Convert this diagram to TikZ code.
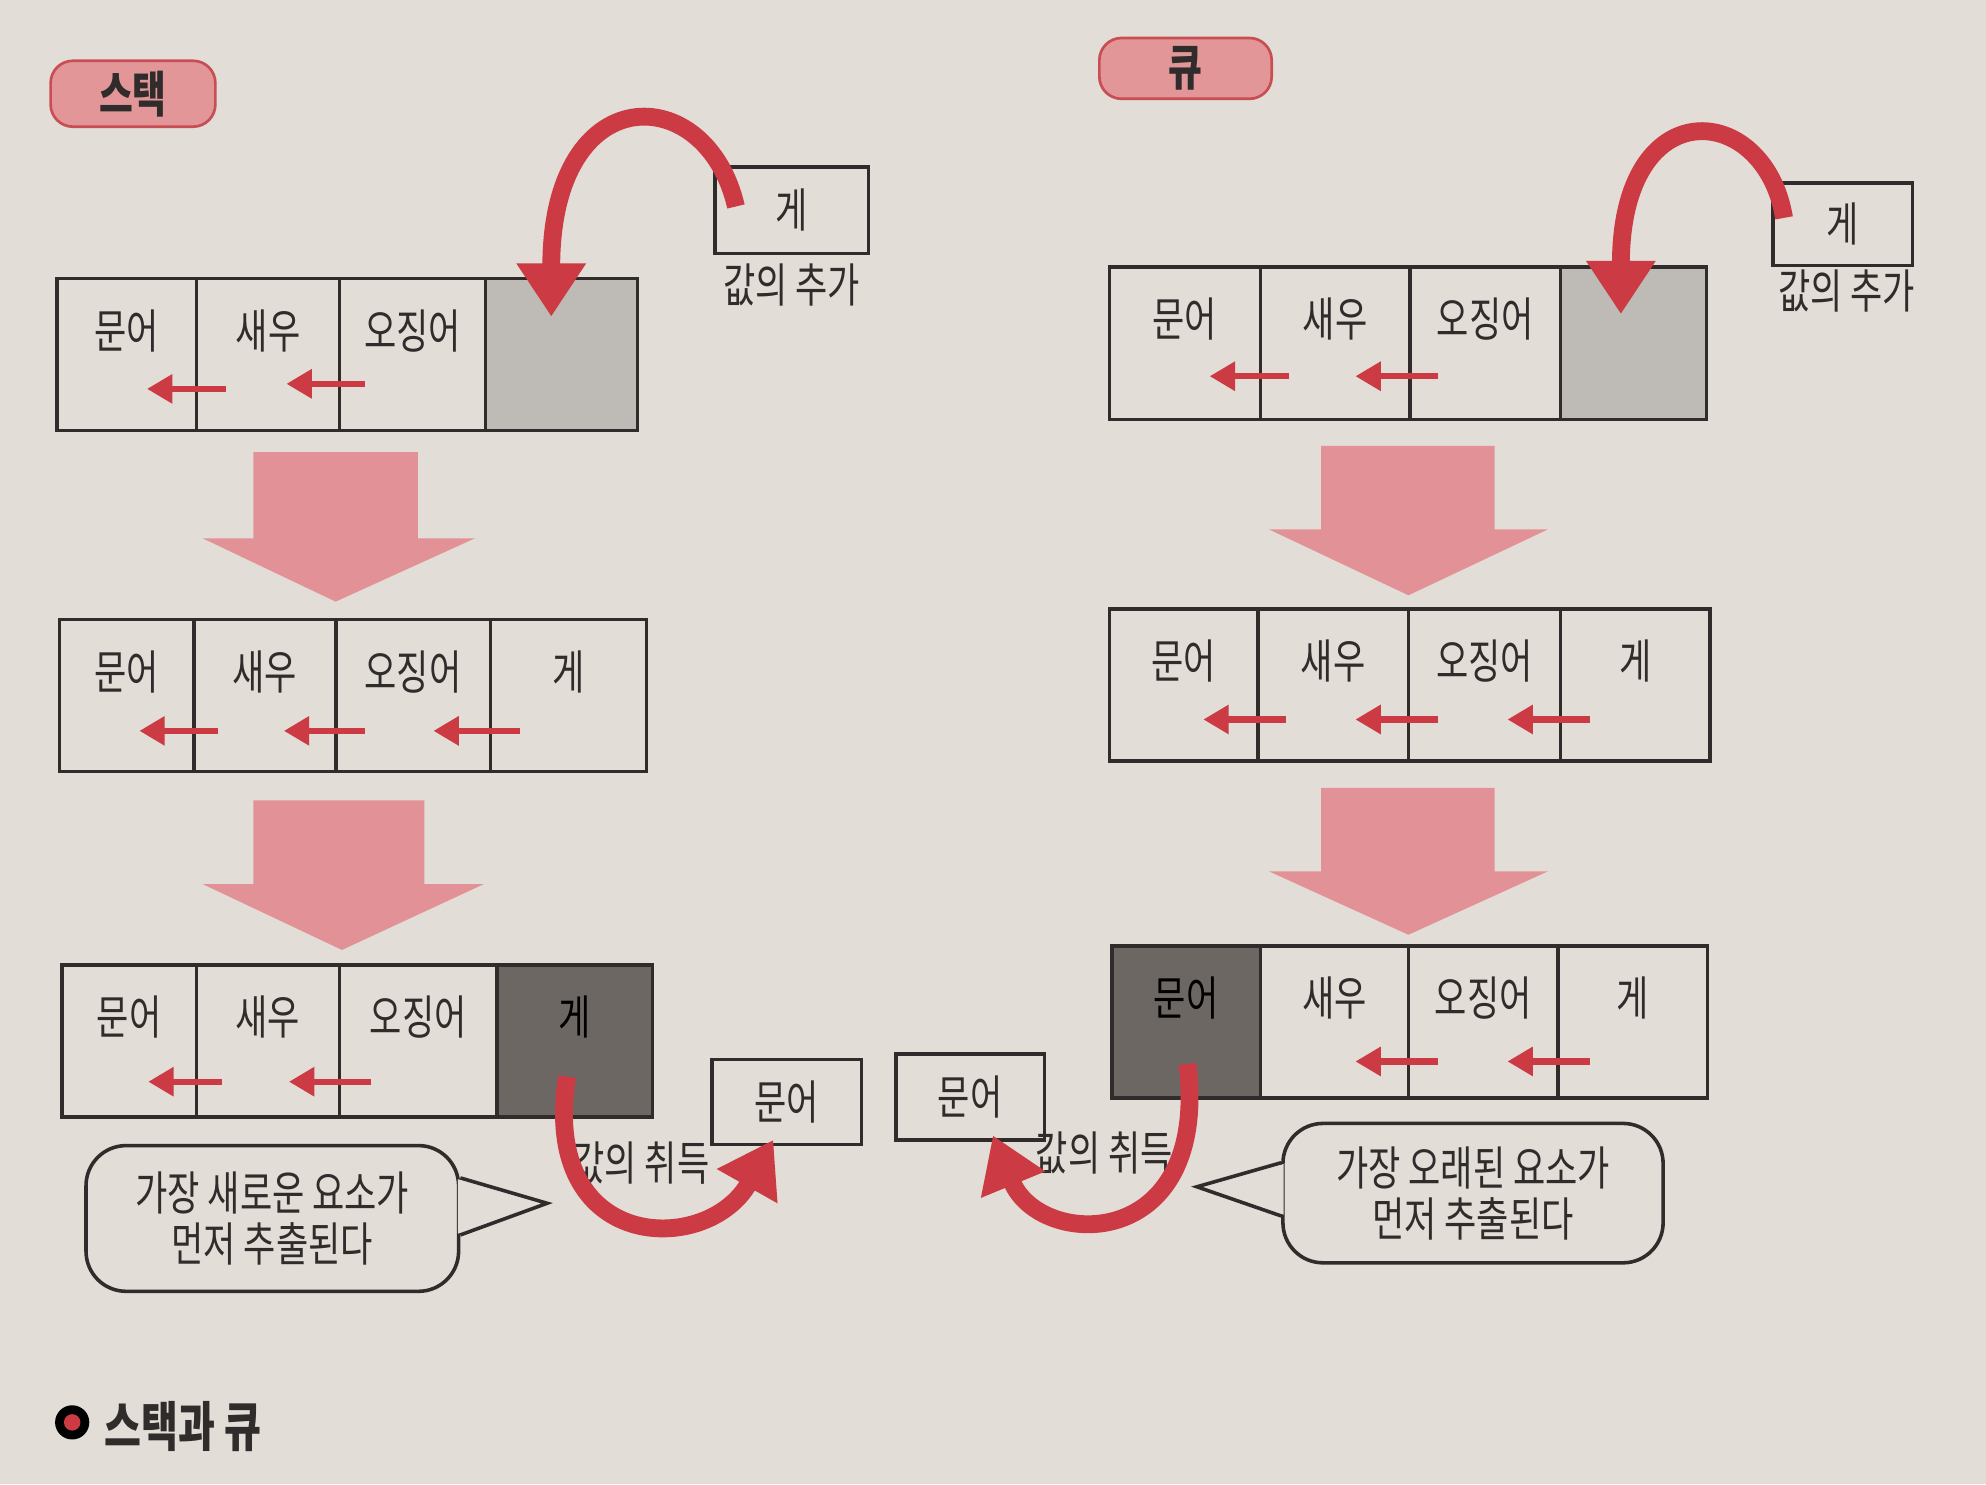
\documentclass[tikz,border=0pt]{standalone}
\usepackage{fontspec}
\setmainfont{Noto Sans CJK KR}[FakeStretch=0.75]
\usetikzlibrary{positioning,calc,arrows.meta}
\definecolor{paper}{RGB}{226,221,214}
\definecolor{ink}{RGB}{48,44,44}
\definecolor{arrowred}{RGB}{204,58,68}
\definecolor{blockpink}{RGB}{226,146,150}
\definecolor{tagpink}{RGB}{226,150,152}
\definecolor{tagline}{RGB}{200,78,84}
\definecolor{slotgray}{RGB}{190,186,182}
\definecolor{outgray}{RGB}{108,103,99}

\tikzset{
  cell/.style={draw=ink, line width=0.8pt, outer sep=0pt, inner sep=0pt,
    text height=0.55cm, text depth=0.65cm},
  itembox/.style={draw=ink, line width=0.8pt, inner sep=0pt},
  word/.style={inner sep=0pt},
  tag/.style={draw=tagline, line width=0.6pt, fill=tagpink, rounded corners=5pt,
    inner sep=0pt, font=\bfseries\fontsize{11}{13}\selectfont},
  bubble/.style={draw=ink, line width=0.8pt, rounded corners=9pt, fill=paper,
    align=center, inner sep=0pt, font=\fontsize{10.5}{11.5}\selectfont},
  slidearrow/.style={arrowred, line width=1.4pt, -{Triangle[length=0.2cm,width=0.22cm]}},
  movearrow/.style={arrowred, line width=4pt, -{Triangle[length=0.42cm,width=0.52cm]}}
}

\begin{document}
\begin{tikzpicture}[x=0.01cm,y=-0.01cm,font=\fontsize{10.5}{12}\selectfont,text=ink]
\useasboundingbox (0,0) rectangle (1568,1172);
\fill[paper] (0,0) rectangle (1568,1172);

% stack
\node[tag, minimum width=1.30cm, minimum height=0.52cm] (stacktag) at (105,74) {스택};

\node[cell, anchor=west, minimum width=1.10cm] (s1a) at (45,280) {문어};
\node[cell, right=0pt of s1a, minimum width=1.13cm] (s1b) {새우};
\node[cell, right=0pt of s1b, minimum width=1.15cm] (s1c) {오징어};
\node[cell, right=0pt of s1c, minimum width=1.20cm, fill=slotgray] (s1d) {};
\draw[slidearrow] ($(s1b.south west)+(23,-33)$) -- ++(-62,0);
\draw[slidearrow] ($(s1c.south west)+(20,-37)$) -- ++(-62,0);

\node[itembox, minimum width=1.21cm, minimum height=0.68cm] (sin) at (625,166) {게};
\node[word] (sinlabel) at (625,225) {값의 추가};

\fill[blockpink] (200,357) -- (330,357) -- (330,425) -- (375,425) -- (265,475) -- (160,425) -- (200,425) -- cycle;

\node[cell, anchor=west, minimum width=1.06cm] (s2a) at (47,549) {문어};
\node[cell, right=0pt of s2a, minimum width=1.12cm] (s2b) {새우};
\node[cell, right=0pt of s2b, minimum width=1.22cm] (s2c) {오징어};
\node[cell, right=0pt of s2c, minimum width=1.23cm] (s2d) {게};
\draw[slidearrow] ($(s2b.south west)+(19,-32)$) -- ++(-62,0);
\draw[slidearrow] ($(s2c.south west)+(23,-32)$) -- ++(-64,0);
\draw[slidearrow] ($(s2d.south west)+(23,-32)$) -- ++(-68,0);

\fill[blockpink] (200,632) -- (335,632) -- (335,698) -- (382,698) -- (270,750) -- (160,698) -- (200,698) -- cycle;

\node[cell, anchor=west, minimum width=1.06cm] (s3a) at (49,822) {문어};
\node[cell, right=0pt of s3a, minimum width=1.13cm] (s3b) {새우};
\node[cell, right=0pt of s3b, minimum width=1.24cm] (s3c) {오징어};
\node[cell, right=0pt of s3c, minimum width=1.23cm, fill=outgray, text=black] (s3d) {게};
\draw[slidearrow] ($(s3b.south west)+(20,-28)$) -- ++(-58,0);
\draw[slidearrow] ($(s3c.south west)+(25,-28)$) -- ++(-65,0);

\node[itembox, minimum width=1.18cm, minimum height=0.67cm] (sout) at (621,870) {문어};
\node[word] (soutlabel) at (506,918) {값의 취득};

\node[bubble, minimum width=2.94cm, minimum height=1.15cm] (sbub) at (215,962) {가장 새로운 요소가\\먼저 추출된다};
\coordinate (stip) at (432,950);
\fill[paper] ($(sbub.east)+(-2,-31)$) -- (stip) -- ($(sbub.east)+(-2,12)$) -- cycle;
\draw[ink, line width=0.8pt] ($(sbub.east)+(0,-32)$) -- (stip) -- ($(sbub.east)+(0,13)$);

\draw[movearrow] ($(sin.west)+(18,-3)$) .. controls +(-23,-100) and +(0,-190) .. ($(s1d.center)+(-8,-30)$);
\draw[movearrow] ($(s3d.center)+(-6,28)$) .. controls +(-22,140) and +(-52,92) .. ($(sout.south west)+(50,-5)$);

% queue
\node[tag, minimum width=1.36cm, minimum height=0.48cm] (queuetag) at (936,54) {큐};

\node[cell, anchor=west, minimum width=1.19cm] (q1a) at (876,271) {문어};
\node[cell, right=0pt of q1a, minimum width=1.18cm] (q1b) {새우};
\node[cell, right=0pt of q1b, minimum width=1.19cm] (q1c) {오징어};
\node[cell, right=0pt of q1c, minimum width=1.15cm, fill=slotgray] (q1d) {};
\draw[slidearrow] ($(q1b.south west)+(23,-34)$) -- ++(-63,0);
\draw[slidearrow] ($(q1c.south west)+(22,-34)$) -- ++(-65,0);

\node[itembox, minimum width=1.10cm, minimum height=0.65cm] (qin) at (1455,177) {게};
\node[word] (qinlabel) at (1458,230) {값의 추가};

\fill[blockpink] (1043,352) -- (1180,352) -- (1180,418) -- (1222,418) -- (1112,470) -- (1002,418) -- (1043,418) -- cycle;

\node[cell, anchor=west, minimum width=1.17cm] (q2a) at (876,541) {문어};
\node[cell, right=0pt of q2a, minimum width=1.19cm] (q2b) {새우};
\node[cell, right=0pt of q2b, minimum width=1.20cm] (q2c) {오징어};
\node[cell, right=0pt of q2c, minimum width=1.18cm] (q2d) {게};
\draw[slidearrow] ($(q2b.south west)+(22,-33)$) -- ++(-65,0);
\draw[slidearrow] ($(q2c.south west)+(23,-33)$) -- ++(-65,0);
\draw[slidearrow] ($(q2d.south west)+(23,-33)$) -- ++(-65,0);

\fill[blockpink] (1043,622) -- (1180,622) -- (1180,688) -- (1222,688) -- (1112,738) -- (1002,688) -- (1043,688) -- cycle;

\node[cell, anchor=west, minimum width=1.17cm, fill=outgray, text=black] (q3a) at (878,807) {문어};
\node[cell, right=0pt of q3a, minimum width=1.17cm] (q3b) {새우};
\node[cell, right=0pt of q3b, minimum width=1.18cm] (q3c) {오징어};
\node[cell, right=0pt of q3c, minimum width=1.18cm] (q3d) {게};
\draw[slidearrow] ($(q3c.south west)+(23,-29)$) -- ++(-65,0);
\draw[slidearrow] ($(q3d.south west)+(25,-29)$) -- ++(-65,0);

\node[itembox, minimum width=1.17cm, minimum height=0.68cm] (qout) at (766,866) {문어};
\node[word] (qoutlabel) at (872,910) {값의 취득};

\node[bubble, minimum width=3.00cm, minimum height=1.10cm] (qbub) at (1163,942) {가장 오래된 요소가\\먼저 추출된다};
\coordinate (qtip) at (945,937);
\fill[paper] ($(qbub.west)+(2,-23)$) -- (qtip) -- ($(qbub.west)+(2,17)$) -- cycle;
\draw[ink, line width=0.8pt] ($(qbub.west)+(0,-24)$) -- (qtip) -- ($(qbub.west)+(0,18)$);

\draw[movearrow] ($(qin.west)+(10,-5)$) .. controls +(-15,-92) and +(0,-178) .. ($(q1d.center)+(-10,-23)$);
\draw[movearrow] ($(q3a.center)+(1,33)$) .. controls +(18,150) and +(37,90) .. ($(qout.south east)+(-42,-5)$);

% caption
\node[circle, fill=black, minimum size=0.27cm, inner sep=0pt] (capdot) at (57,1123) {};
\node[circle, fill=arrowred, minimum size=0.13cm, inner sep=0pt] (capdotin) at (capdot) {};
\node[word, anchor=west, font=\bfseries\fontsize{12}{14}\selectfont] (caption) at (82,1126) {스택과 큐};
\end{tikzpicture}
\end{document}
